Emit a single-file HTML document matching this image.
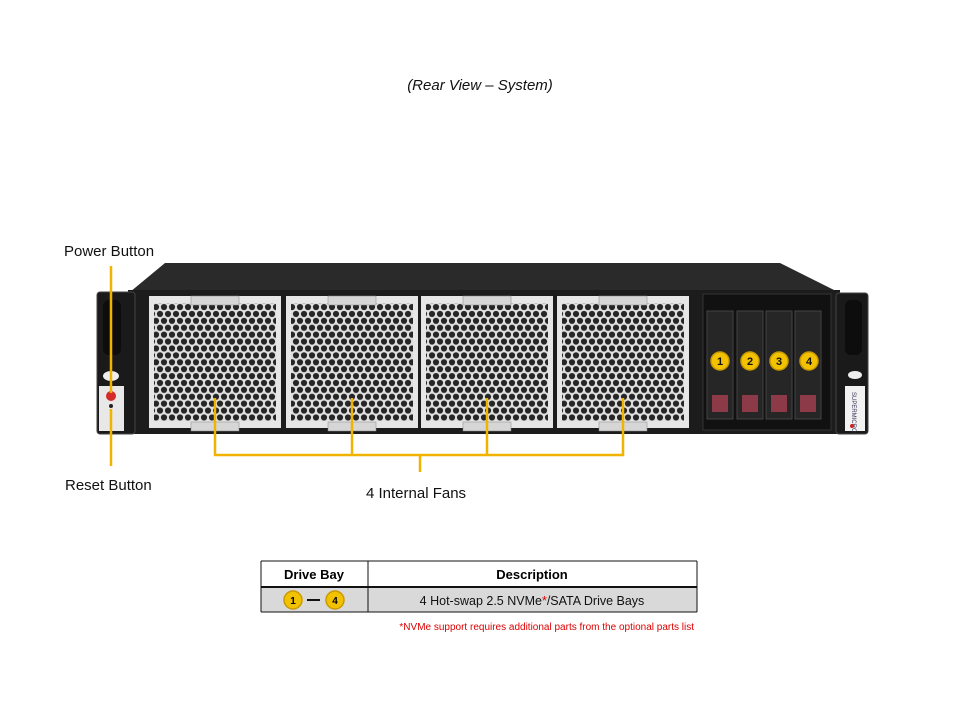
<!DOCTYPE html>
<html><head><style>
body{margin:0;background:#fff;width:960px;height:720px;overflow:hidden;font-family:"Liberation Sans",Arial,sans-serif}
</style></head><body>
<svg width="960" height="720" xmlns="http://www.w3.org/2000/svg" font-family="Liberation Sans, Arial, sans-serif">
<defs>
<pattern id="hex" width="8" height="13.8" patternUnits="userSpaceOnUse">
<rect width="8" height="13.8" fill="#e0e0e0"/>
<circle cx="4" cy="3.45" r="3.1" fill="#262626"/>
<circle cx="0" cy="10.35" r="3.1" fill="#262626"/>
<circle cx="8" cy="10.35" r="3.1" fill="#262626"/>
</pattern>
</defs>
<rect width="960" height="720" fill="#fff"/>
<text x="480" y="90" font-size="15" font-style="italic" text-anchor="middle" fill="#111">(Rear View – System)</text>
<polygon points="130,292 165,263 780,263 838,292" fill="#2a2a2a"/>
<rect x="128" y="290" width="712" height="144" fill="#1c1c1c"/>
<rect x="97" y="292" width="38" height="142" rx="3" fill="#1a1a1a" stroke="#444"/>
<rect x="103" y="300" width="18" height="55" rx="6" fill="#0d0d0d"/>
<ellipse cx="111" cy="376" rx="8" ry="5" fill="#eee"/>
<rect x="99" y="386" width="25" height="45" fill="#e8e8e8"/>
<circle cx="111" cy="396" r="5" fill="#d42a2a"/>
<circle cx="111" cy="406" r="2" fill="#222"/>
<rect x="836" y="293" width="32" height="141" rx="3" fill="#1a1a1a" stroke="#444"/>
<rect x="845" y="300" width="17" height="55" rx="6" fill="#0d0d0d"/>
<ellipse cx="855" cy="375" rx="7" ry="4" fill="#eee"/>
<rect x="845" y="386" width="20" height="45" fill="#f2f2f2"/>
<text transform="translate(852,392) rotate(90)" font-size="6" fill="#335">SUPERMICRO</text>
<circle cx="852" cy="426" r="2" fill="#c22"/>
<g>
<rect x="149" y="296" width="132" height="132" fill="#e6e6e6"/><rect x="154" y="303" width="122" height="118" fill="url(#hex)"/>
<rect x="286" y="296" width="132" height="132" fill="#e6e6e6"/><rect x="291" y="303" width="122" height="118" fill="url(#hex)"/>
<rect x="421" y="296" width="132" height="132" fill="#e6e6e6"/><rect x="426" y="303" width="122" height="118" fill="url(#hex)"/>
<rect x="557" y="296" width="132" height="132" fill="#e6e6e6"/><rect x="562" y="303" width="122" height="118" fill="url(#hex)"/>
<g fill="#d6d6d6" stroke="#888" stroke-width="0.5">
<rect x="191" y="296" width="48" height="9"/><rect x="191" y="422" width="48" height="9"/>
<rect x="328" y="296" width="48" height="9"/><rect x="328" y="422" width="48" height="9"/>
<rect x="463" y="296" width="48" height="9"/><rect x="463" y="422" width="48" height="9"/>
<rect x="599" y="296" width="48" height="9"/><rect x="599" y="422" width="48" height="9"/>
</g>
</g>
<rect x="703" y="294" width="128" height="136" fill="#111" stroke="#333"/>
<g fill="#262626" stroke="#444">
<rect x="707" y="311" width="26" height="108"/><rect x="737" y="311" width="26" height="108"/>
<rect x="766" y="311" width="26" height="108"/><rect x="795" y="311" width="26" height="108"/>
</g>
<g fill="#8c3a48"><rect x="712" y="395" width="16" height="17"/><rect x="742" y="395" width="16" height="17"/><rect x="771" y="395" width="16" height="17"/><rect x="800" y="395" width="16" height="17"/></g>
<g fill="#f2c200" stroke="#c99a00" stroke-width="1.5">
<circle cx="720" cy="361" r="9"/><circle cx="750" cy="361" r="9"/><circle cx="779" cy="361" r="9"/><circle cx="809" cy="361" r="9"/>
</g>
<g font-size="11" font-weight="bold" text-anchor="middle" fill="#111">
<text x="720" y="365">1</text><text x="750" y="365">2</text><text x="779" y="365">3</text><text x="809" y="365">4</text></g>
<g stroke="#f0b400" stroke-width="2.5" fill="none">
<line x1="111" y1="266" x2="111" y2="393"/>
<line x1="111" y1="409" x2="111" y2="466"/>
<polyline points="215,398 215,455 623,455 623,398"/>
<line x1="352" y1="398" x2="352" y2="455"/>
<line x1="487" y1="398" x2="487" y2="455"/>
<line x1="420" y1="455" x2="420" y2="472"/>
</g>
<text x="64" y="256" font-size="15" fill="#111">Power Button</text>
<text x="65" y="490" font-size="15" fill="#111">Reset Button</text>
<text x="366" y="498" font-size="15" fill="#111">4 Internal Fans</text>
<rect x="261" y="561" width="436" height="26" fill="#fff"/>
<rect x="261" y="587" width="436" height="25" fill="#d9d9d9"/>
<g stroke="#111" stroke-width="1"><line x1="261" y1="561" x2="697" y2="561"/><line x1="261" y1="587" x2="697" y2="587" stroke-width="2"/><line x1="261" y1="612" x2="697" y2="612"/>
<line x1="261" y1="561" x2="261" y2="612"/><line x1="368" y1="561" x2="368" y2="612"/><line x1="697" y1="561" x2="697" y2="612"/></g>
<text x="314" y="579" font-size="13" font-weight="bold" text-anchor="middle">Drive Bay</text>
<text x="532" y="579" font-size="13" font-weight="bold" text-anchor="middle">Description</text>
<g fill="#f2c200" stroke="#c99a00" stroke-width="1.5"><circle cx="293" cy="600" r="9"/><circle cx="335" cy="600" r="9"/></g>
<line x1="307" y1="600" x2="320" y2="600" stroke="#111" stroke-width="2"/>
<text x="293" y="604" font-size="10" font-weight="bold" text-anchor="middle">1</text>
<text x="335" y="604" font-size="10" font-weight="bold" text-anchor="middle">4</text>
<text x="532" y="605" font-size="12.5" text-anchor="middle" fill="#111">4 Hot-swap 2.5  NVMe<tspan fill="#d00">*</tspan>/SATA Drive Bays</text>
<text x="694" y="630" font-size="10" text-anchor="end" fill="#d00">*NVMe support requires additional parts from the optional parts list</text>
</svg>
</body></html>
